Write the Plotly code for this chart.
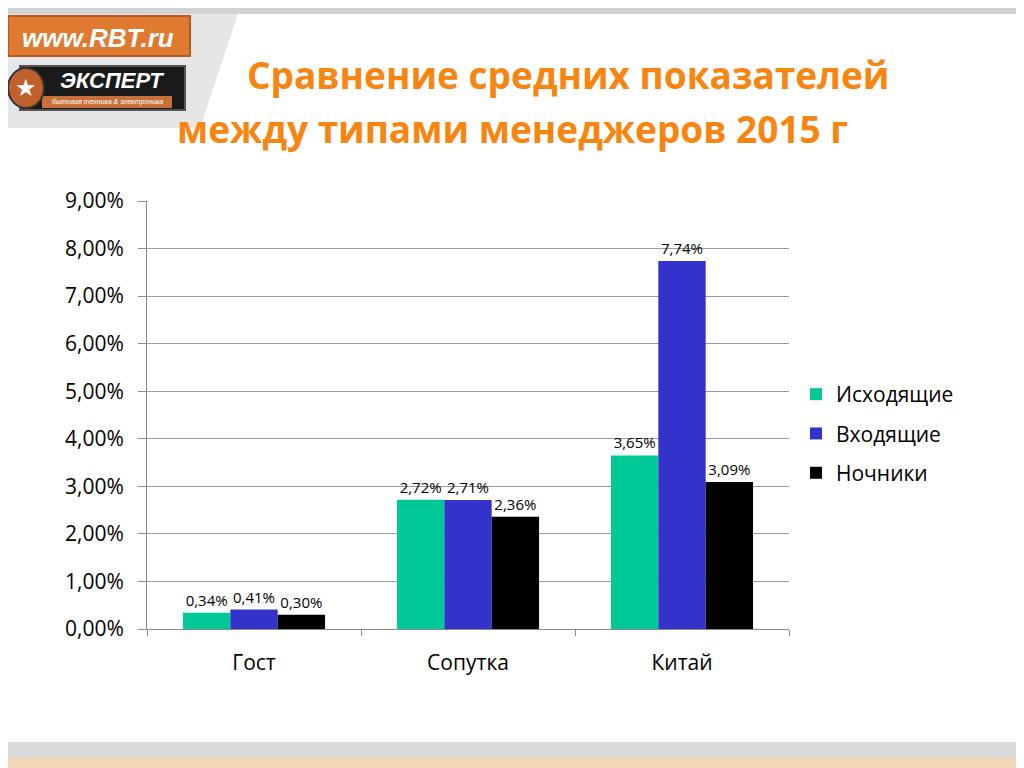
import plotly.graph_objects as go

categories = ["Гост", "Сопутка", "Китай"]
series_names = ["Исходящие", "Входящие", "Ночники"]
ishod = [0.0034, 0.0272, 0.0365]
vhod = [0.0041, 0.0271, 0.0774]
nochn = [0.0030, 0.0236, 0.0309]
y_ticks = [0, 0.01, 0.02, 0.03, 0.04, 0.05, 0.06, 0.07, 0.08, 0.09]
colors = ["#00C896", "#3333CC", "#000000"]

O = 8  # page body margin offset
W, H = 1024 - O, 768 - O
L, R, T, B = 147 - O, 789 - O, 201 - O, 629 - O


def px(x):
    # screen x -> paper coordinate
    return (x - O - L) / (R - L)


def py(y):
    # screen y -> paper coordinate
    return (B - (y - O)) / (B - T)


fig = go.Figure()
for i, (name, vals, col) in enumerate(zip(series_names, [ishod, vhod, nochn], colors)):
    fig.add_trace(go.Bar(
        x=categories, y=vals, name=name, legendgroup=f"g{i}",
        marker=dict(color=col, line=dict(width=0)),
        text=[f"{v*100:.2f}%".replace(".", ",") for v in vals],
        textposition="outside", textfont=dict(size=15, color="#000000"),
        cliponaxis=False,
    ))

shapes = []
# frame decorations
shapes.append(dict(type="path", xref="paper", yref="paper",
                   path=f"M {px(8)},{py(8)} L {px(240)},{py(8)} L {px(200)},{py(128)} L {px(8)},{py(128)} Z",
                   fillcolor="#e6e6e6", line=dict(width=0), layer="below"))
shapes.append(dict(type="rect", xref="paper", yref="paper", x0=px(8), x1=px(1024), y0=py(8), y1=py(14),
                   fillcolor="#d2d2d2", line=dict(width=0), layer="below"))
shapes.append(dict(type="rect", xref="paper", yref="paper", x0=px(8), x1=px(1024), y0=py(742), y1=py(758),
                   fillcolor="#d9d9d9", line=dict(width=0), layer="below"))
shapes.append(dict(type="rect", xref="paper", yref="paper", x0=px(8), x1=px(1024), y0=py(758), y1=py(768),
                   fillcolor="#f3d8b8", line=dict(width=0), layer="below"))
# logo approximations
shapes.append(dict(type="rect", xref="paper", yref="paper", x0=px(8), x1=px(190), y0=py(16), y1=py(56),
                   fillcolor="#E07A30", line=dict(color="#B85A20", width=2)))
shapes.append(dict(type="rect", xref="paper", yref="paper", x0=px(20), x1=px(185), y0=py(66), y1=py(110),
                   fillcolor="#1a1a1a", line=dict(color="#555555", width=2)))
shapes.append(dict(type="rect", xref="paper", yref="paper", x0=px(42), x1=px(172), y0=py(96), y1=py(108),
                   fillcolor="#C8703A", line=dict(width=0)))
shapes.append(dict(type="circle", xref="paper", yref="paper", x0=px(8), x1=px(44), y0=py(68), y1=py(108),
                   fillcolor="#C0602A", line=dict(color="#333333", width=2)))

annotations = [
    dict(text="Сравнение средних показателей", xref="paper", yref="paper", x=px(568), y=py(74),
         showarrow=False, xanchor="center", yanchor="middle",
         font=dict(family="Open Sans", size=37, color="#F7850F", weight="bold")),
    dict(text="между типами менеджеров 2015 г", xref="paper", yref="paper", x=px(512), y=py(128),
         showarrow=False, xanchor="center", yanchor="middle",
         font=dict(family="Open Sans", size=37, color="#F7850F", weight="bold")),
    dict(text="<i><b>www.RBT.ru</b></i>", xref="paper", yref="paper", x=px(98), y=py(38),
         showarrow=False, xanchor="center", yanchor="middle",
         font=dict(family="Liberation Sans", size=26, color="#ffffff")),
    dict(text="<i><b>ЭКСПЕРТ</b></i>", xref="paper", yref="paper", x=px(112), y=py(80),
         showarrow=False, xanchor="center", yanchor="middle",
         font=dict(family="Liberation Sans", size=22, color="#ffffff")),
    dict(text="<i>бытовая техника & электроника</i>", xref="paper", yref="paper", x=px(107), y=py(102),
         showarrow=False, xanchor="center", yanchor="middle",
         font=dict(family="Liberation Sans", size=7, color="#ffffff")),
    dict(text="★", xref="paper", yref="paper", x=px(26), y=py(88),
         showarrow=False, xanchor="center", yanchor="middle",
         font=dict(family="DejaVu Sans", size=24, color="#ffffff")),
]

fig.update_layout(
    width=W, height=H, autosize=False,
    margin=dict(l=L, r=W - R, t=T, b=H - B, pad=0),
    paper_bgcolor="#ffffff", plot_bgcolor="#ffffff",
    separators=", ",
    font=dict(family="Open Sans", color="#000000"),
    barmode="group", bargap=0.336, bargroupgap=0,
    showlegend=True,
    legend=dict(x=px(796), y=py(374), xanchor="left", yanchor="top",
                font=dict(size=21, color="#000000"), tracegroupgap=9,
                traceorder="grouped",
                itemsizing="constant", bgcolor="rgba(0,0,0,0)"),
    shapes=shapes, annotations=annotations,
)
fig.update_yaxes(range=[0, 0.09], tickvals=y_ticks, tickformat=".2%",
                 showgrid=True, gridcolor="#9a9a9a", gridwidth=1,
                 showline=True, linecolor="#8a8a8a", linewidth=1,
                 ticks="outside", ticklen=8, tickcolor="#8a8a8a",
                 ticklabelstandoff=10,
                 tickfont=dict(size=21, color="#000000"), zeroline=False, fixedrange=True)
fig.update_xaxes(showline=True, linecolor="#8a8a8a", linewidth=1,
                 ticks="outside", ticklen=6, tickcolor="#8a8a8a", tickson="boundaries",
                 ticklabelstandoff=15,
                 tickfont=dict(size=21, color="#000000"), showgrid=False, fixedrange=True)

fig.write_html("out.html")
